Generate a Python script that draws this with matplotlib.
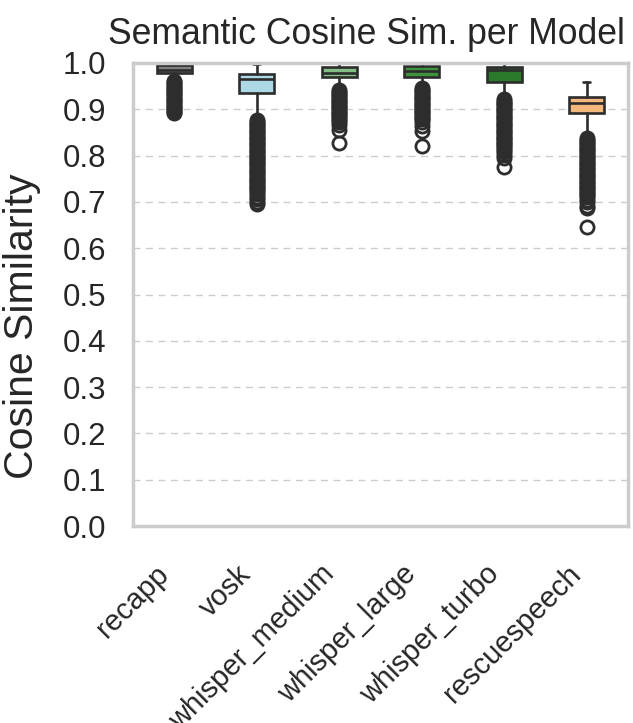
import matplotlib
matplotlib.use('Agg')
import matplotlib.pyplot as plt
import seaborn as sns

# Modele i kolory
models = ['recapp', 'vosk', 'whisper_medium', 'whisper_large', 'whisper_turbo', 'rescuespeech']
colors = ['#808080', '#add8e6', '#86bf86', '#3d943d', '#2b7a2b', '#f4b77c']

# Statystyki pudełek
q1 = [0.978, 0.935, 0.969, 0.970, 0.960, 0.891]
med = [0.985, 0.965, 0.979, 0.983, 0.985, 0.913]
q3 = [0.996, 0.976, 0.991, 0.994, 0.992, 0.927]
whislo = [0.965, 0.881, 0.944, 0.949, 0.925, 0.841]
whishi = [1.000, 0.997, 1.000, 1.000, 1.000, 0.958]

# Wartości odstające
fliers_recapp = [0.962, 0.958, 0.955, 0.951, 0.947, 0.944, 0.940, 0.936, 0.933, 0.929,
                 0.925, 0.921, 0.918, 0.914, 0.910, 0.906, 0.903, 0.899, 0.895, 0.892]
fliers_vosk = [0.877, 0.873, 0.869, 0.866, 0.862, 0.858, 0.854, 0.851, 0.847, 0.843,
               0.839, 0.835, 0.832, 0.828, 0.824, 0.820, 0.817, 0.813, 0.809, 0.805,
               0.801, 0.798, 0.794, 0.790, 0.786, 0.783, 0.779, 0.775, 0.771, 0.767,
               0.764, 0.760, 0.756, 0.752, 0.748, 0.745, 0.741, 0.737, 0.733, 0.729,
               0.726, 0.722, 0.717, 0.711, 0.706, 0.700, 0.696]
fliers_medium = [0.941, 0.937, 0.934, 0.930, 0.926, 0.922, 0.919, 0.915, 0.911, 0.907,
                 0.904, 0.900, 0.896, 0.892, 0.889, 0.885, 0.881, 0.877, 0.873, 0.866,
                 0.855, 0.828]
fliers_large = [0.946, 0.942, 0.939, 0.935, 0.931, 0.927, 0.924, 0.920, 0.916, 0.912,
                0.909, 0.905, 0.901, 0.897, 0.894, 0.890, 0.886, 0.882, 0.878, 0.873,
                0.864, 0.853, 0.820]
fliers_turbo = [0.922, 0.918, 0.914, 0.911, 0.907, 0.903, 0.899, 0.896, 0.892, 0.888,
                0.884, 0.881, 0.877, 0.873, 0.869, 0.866, 0.862, 0.858, 0.854, 0.851,
                0.847, 0.843, 0.839, 0.836, 0.832, 0.828, 0.824, 0.821, 0.817, 0.813,
                0.808, 0.802, 0.795, 0.776]
fliers_rescue = [0.838, 0.834, 0.830, 0.827, 0.823, 0.819, 0.815, 0.812, 0.808, 0.804,
                 0.800, 0.797, 0.793, 0.789, 0.785, 0.782, 0.778, 0.774, 0.770, 0.767,
                 0.763, 0.759, 0.755, 0.752, 0.748, 0.744, 0.740, 0.737, 0.733, 0.729,
                 0.725, 0.722, 0.718, 0.714, 0.710, 0.705, 0.699, 0.692, 0.687, 0.646]
fliers = [fliers_recapp, fliers_vosk, fliers_medium, fliers_large, fliers_turbo, fliers_rescue]

yticks = [0.0, 0.1, 0.2, 0.3, 0.4, 0.5, 0.6, 0.7, 0.8, 0.9, 1.0]

sns.set_style('whitegrid')
plt.rcParams['font.family'] = ['Liberation Sans', 'DejaVu Sans']

fig = plt.figure(figsize=(6.33, 7.23), dpi=100)
ax = fig.add_axes([133 / 633, 1 - 526 / 723, 495 / 633, 463 / 723])

stats = []
for i in range(len(models)):
    stats.append({'med': med[i], 'q1': q1[i], 'q3': q3[i],
                  'whislo': whislo[i], 'whishi': whishi[i], 'fliers': fliers[i]})

line_c = '#2d2d2d'
lw = 1.9
bp = ax.bxp(stats, positions=range(len(models)), widths=0.42, patch_artist=True,
            boxprops=dict(edgecolor=line_c, linewidth=lw),
            medianprops=dict(color=line_c, linewidth=lw),
            whiskerprops=dict(color=line_c, linewidth=lw),
            capprops=dict(color=line_c, linewidth=lw),
            flierprops=dict(marker='o', markersize=9.5, markerfacecolor='none',
                            markeredgecolor=line_c, markeredgewidth=2.0))
for patch, c in zip(bp['boxes'], colors):
    patch.set_facecolor(c)
for cap in bp['caps']:
    cap.set_xdata([cap.get_xdata()[0] + 0.06, cap.get_xdata()[1] - 0.06])

ax.set_xlim(-0.5, len(models) - 0.5)
ax.set_ylim(0, 1.0)
ax.set_yticks(yticks)
ax.set_xticks(range(len(models)))
ax.set_xticklabels(models, rotation=45, ha='right', fontsize=21)
ax.tick_params(axis='y', labelsize=22.5, pad=16)
ax.tick_params(axis='x', pad=21)
ax.grid(axis='y', linestyle=(0, (5, 4)), color='#cccccc', linewidth=1.0)
ax.grid(axis='x', visible=False)
for s in ax.spines.values():
    s.set_edgecolor('#cccccc')
    s.set_linewidth(2.5)

ax.set_title('Semantic Cosine Sim. per Model', fontsize=25.6, pad=14, x=0.472)
ax.set_ylabel('Cosine Similarity', fontsize=29.5)
ax.yaxis.set_label_coords(-0.185, 0.432)

plt.savefig('out.png', dpi=100)
